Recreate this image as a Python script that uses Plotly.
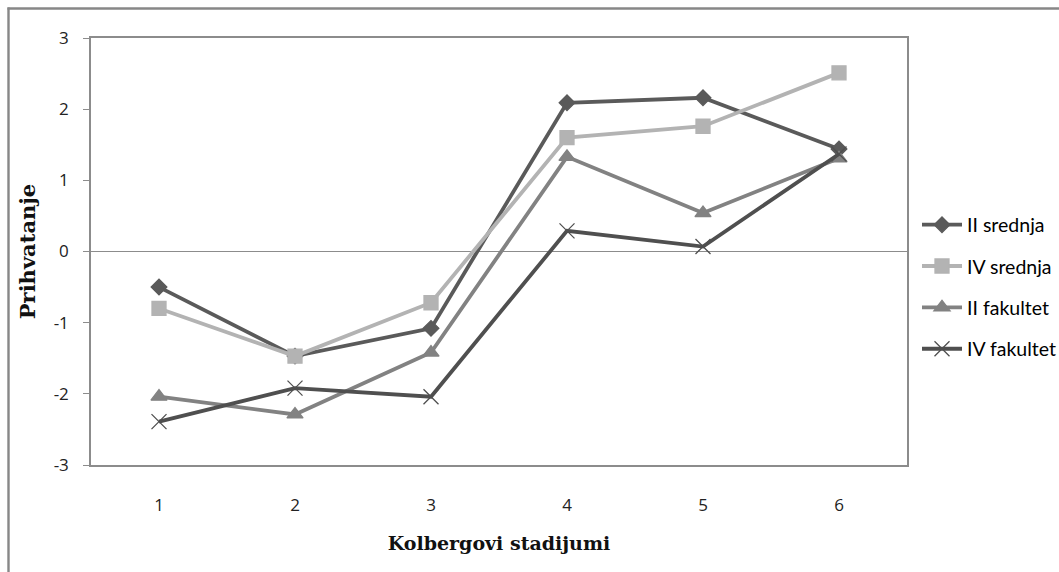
import plotly.graph_objects as go

stages = [1, 2, 3, 4, 5, 6]
ii_srednja = [-0.50, -1.47, -1.08, 2.09, 2.16, 1.44]
iv_srednja = [-0.80, -1.47, -0.72, 1.60, 1.76, 2.51]
ii_fakultet = [-2.04, -2.29, -1.42, 1.33, 0.54, 1.31]
iv_fakultet = [-2.39, -1.92, -2.04, 0.29, 0.07, 1.37]
y_ticks = [-3, -2, -1, 0, 1, 2, 3]

series = [
    ("II srednja", ii_srednja, "#5a5a5a", "diamond", 12),
    ("IV srednja", iv_srednja, "#b3b3b3", "square", 14),
    ("II fakultet", ii_fakultet, "#828282", "triangle-up", 14),
    ("IV fakultet", iv_fakultet, "#4f4f4f", "x-thin", 15),
]

fig = go.Figure()
for name, vals, color, sym, size in series:
    fig.add_trace(go.Scatter(
        x=stages, y=vals, name=name, mode="lines+markers", legendgroup=name,
        line=dict(color=color, width=3.8),
        marker=dict(symbol=sym, size=size, color=color,
                    line=dict(color=color, width=1.3)),
    ))

L, T = 91, 38
W, H = 1059, 572
pw, ph = 816, 427
R, B = W - L - pw, H - T - ph


def px_x(p):
    return (p - L) / pw


def px_y(p):
    return (T + ph - p) / ph


fig.update_layout(
    width=W, height=H,
    margin=dict(l=L, r=R, t=T, b=B, autoexpand=False),
    paper_bgcolor="white", plot_bgcolor="white",
    showlegend=True,
    legend=dict(x=px_x(917), y=px_y(287), xanchor="left", yanchor="middle",
                font=dict(family="Lato", size=19.5, color="#000"),
                tracegroupgap=13, itemwidth=40,
                bgcolor="rgba(0,0,0,0)"),
    xaxis=dict(
        range=[0.5, 6.5], tickvals=stages, ticktext=[str(s) for s in stages],
        showgrid=False, zeroline=False, showline=True, mirror=True,
        linecolor="#8c8c8c", linewidth=1.5, ticks="",
        ticklabelstandoff=24,
        tickfont=dict(family="Open Sans", size=17, color="#222"),
        title=dict(text="<b>Kolbergovi stadijumi</b>",
                   font=dict(family="DejaVu Serif", size=19, color="#111"),
                   standoff=22),
    ),
    yaxis=dict(
        range=[-3, 3], tickvals=y_ticks, ticktext=[str(v) for v in y_ticks],
        showgrid=False, zeroline=True, zerolinecolor="#8c8c8c", zerolinewidth=1.2,
        showline=True, mirror=True, linecolor="#8c8c8c", linewidth=1.5,
        ticks="outside", ticklen=6, tickcolor="#8c8c8c",
        ticklabelstandoff=11,
        tickfont=dict(family="Open Sans", size=17, color="#222"),
        title=dict(text="<b>Prihvatanje</b>",
                   font=dict(family="DejaVu Serif", size=21, color="#111"),
                   standoff=12),
    ),
    shapes=[
        dict(type="line", xref="paper", yref="paper",
             x0=px_x(7.5), x1=px_x(W + 10), y0=px_y(8.5), y1=px_y(8.5),
             line=dict(color="#878787", width=2.4), layer="above"),
        dict(type="line", xref="paper", yref="paper",
             x0=px_x(8.5), x1=px_x(8.5), y0=px_y(7.5), y1=px_y(H + 10),
             line=dict(color="#878787", width=2.4), layer="above"),
    ],
)

fig.write_html(
    "out.html",
    config={"displayModeBar": False},
    post_script="document.body.style.margin='0';document.body.style.overflow='hidden';",
)
